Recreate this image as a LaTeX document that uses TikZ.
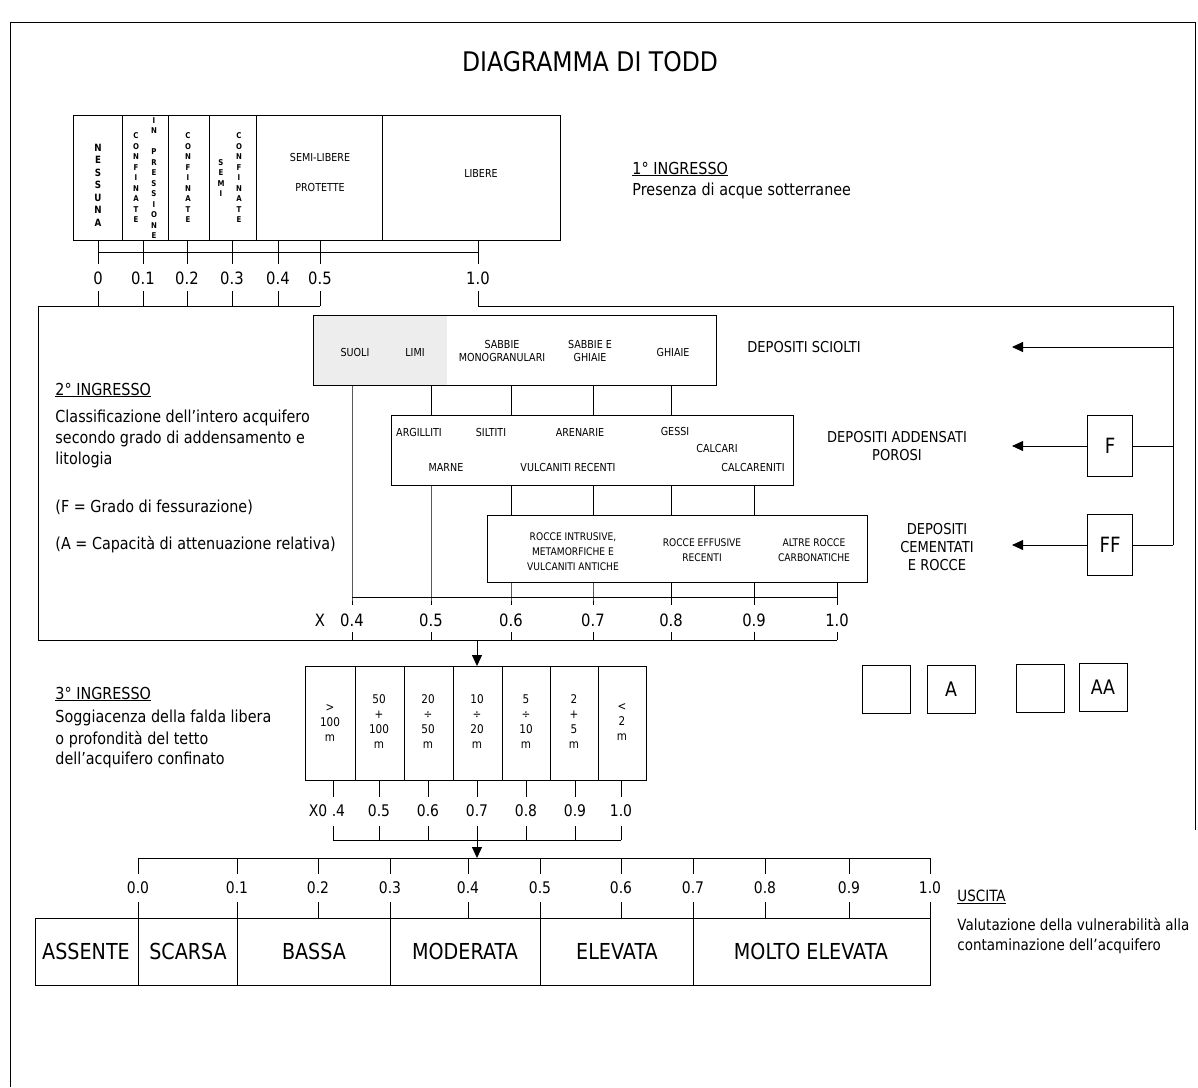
\documentclass[tikz,border=0pt]{standalone}
\usepackage{fontspec}
\setmainfont{DejaVu Sans}[FakeStretch=0.87]
\usetikzlibrary{arrows.meta,positioning}

\begin{document}
\begin{tikzpicture}[x=1pt,y=-1pt,line width=0.9pt,
  box/.style={draw,inner sep=0pt,anchor=north west},
  sqbox/.style={draw,inner sep=0pt,minimum width=48pt,minimum height=48pt,font=\fontsize{20}{22}\selectfont},
  fbox/.style={draw,inner sep=0pt,minimum width=45pt,minimum height=61pt,font=\fontsize{21}{24}\selectfont},
  vlet/.style={font=\fontsize{8}{10.5}\selectfont\bfseries,align=center,inner sep=0pt},
  lab/.style={font=\fontsize{11}{13}\selectfont,align=center,inner sep=0pt},
  dlab/.style={font=\fontsize{12}{15}\selectfont,align=center,inner sep=0pt},
  dep/.style={font=\fontsize{15}{18}\selectfont,align=center,inner sep=0pt},
  head/.style={font=\fontsize{16.5}{20}\selectfont,anchor=west,inner sep=0pt},
  txt/.style={font=\fontsize{16.5}{21}\selectfont,align=left,anchor=north west,inner sep=0pt},
  num/.style={font=\fontsize{17}{20}\selectfont,inner sep=0pt},
  numb/.style={font=\fontsize{16}{18}\selectfont,inner sep=0pt},
  cls/.style={font=\fontsize{22}{24}\selectfont,inner sep=0pt},
  tip/.style={-{Triangle[length=11pt,width=10pt]}}]
\useasboundingbox (0,0) rectangle (1198,1087);

% frame and title
\draw (10,1087) -- (10,22) -- (1195,22) -- (1195,830);
\node[font=\fontsize{27}{30}\selectfont] (title) at (590,62) {DIAGRAMMA DI TODD};

% 1 ingresso
\node[box,minimum width=487pt,minimum height=125pt] (acque) at (73,115) {};
\foreach \x in {122,168,209,256,382}
  \draw (\x,115) -- (\x,240);
\node[vlet,font=\fontsize{10}{12.5}\selectfont\bfseries] (nessuna) at (98,185) {N\\E\\S\\S\\U\\N\\A};
\node[vlet] (conf1) at (136,178) {C\\O\\N\\F\\I\\N\\A\\T\\E};
\node[vlet] (press) at (154,178) {I\\N\\[10.5pt]P\\R\\E\\S\\S\\I\\O\\N\\E};
\node[vlet] (conf2) at (188,178) {C\\O\\N\\F\\I\\N\\A\\T\\E};
\node[vlet] (semi) at (221,178) {S\\E\\M\\I};
\node[vlet] (conf3) at (239,178) {C\\O\\N\\F\\I\\N\\A\\T\\E};
\node[lab] (semilib) at (320,157) {SEMI-LIBERE};
\node[lab] (protette) at (320,187) {PROTETTE};
\node[lab] (libere) at (481,173) {LIBERE};

\node[head] (ing1) at (632,169) {\underline{1° INGRESSO}};
\node[head] (ing1txt) at (632,191) {Presenza di acque sotterranee};

\draw (98,252) -- (478,252);
\foreach \x/\v in {98/0,143/0.1,187/0.2,232/0.3,278/0.4,320/0.5,478/1.0} {
  \draw (\x,240) -- (\x,264);
  \node[num] (p\x) at (\x,278) {\v};
  \draw (\x,291) -- (\x,306);
}

% 2 ingresso
\coordinate (rtop) at (1173,306);
\draw (320,306) -- (38,306) -- (38,640) -- (837,640);
\draw (478,306) -- (rtop);

\node[head] (ing2) at (55,390) {\underline{2° INGRESSO}};
\node[txt] (ing2txt) at (55,410) {Classificazione dell'intero acquifero\\secondo grado di addensamento e\\litologia};
\node[head] (fess) at (55,507) {(F = Grado di fessurazione)};
\node[head] (atten) at (55,545) {(A = Capacità di attenuazione relativa)};

\fill[black!7] (313,315) rectangle (447,385);
\node[box,minimum width=403pt,minimum height=70pt] (sciolti) at (313,315) {};
\node[lab] (suoli) at (355,352) {SUOLI};
\node[lab] (limi) at (415,352) {LIMI};
\node[lab] (mono) at (502,351) {SABBIE\\MONOGRANULARI};
\node[lab] (sabghi) at (590,351) {SABBIE E\\GHIAIE};
\node[lab] (ghiaie) at (673,352) {GHIAIE};

\node[box,minimum width=402pt,minimum height=70pt] (addensati) at (391,415) {};
\node[lab] (argill) at (419,432) {ARGILLITI};
\node[lab] (siltiti) at (491,432) {SILTITI};
\node[lab] (arenarie) at (580,432) {ARENARIE};
\node[lab] (gessi) at (675,431) {GESSI};
\node[lab] (calcari) at (717,448) {CALCARI};
\node[lab] (marne) at (446,467) {MARNE};
\node[lab] (vulcrec) at (568,467) {VULCANITI RECENTI};
\node[lab] (calcar) at (753,467) {CALCARENITI};

\node[box,minimum width=380pt,minimum height=67pt] (cementati) at (487,515) {};
\node[lab,font=\fontsize{10.5}{15}\selectfont] (intrus) at (573,552) {ROCCE INTRUSIVE,\\METAMORFICHE E\\VULCANITI ANTICHE};
\node[lab,font=\fontsize{10.5}{15}\selectfont] (effus) at (702,550) {ROCCE EFFUSIVE\\RECENTI};
\node[lab,font=\fontsize{10.5}{15}\selectfont] (carbon) at (814,550) {ALTRE ROCCE\\CARBONATICHE};

\node[num] (xlab) at (320,620) {X};
\foreach \x/\v [count=\i] in {352/0.4,431/0.5,511/0.6,593/0.7,671/0.8,754/0.9,837/1.0} {
  \coordinate (xs\i) at (\x,597);
  \node[num] (xv\i) at (\x,620) {\v};
  \draw (\x,632) -- (\x,640);
}
\draw (xs1) -- (xs7);
\draw (xs1 |- sciolti.south) -- (xs1) -- ++(0,8);
\foreach \i in {2,...,5}
  \draw (xs\i |- sciolti.south) -- (xs\i |- addensati.north);
\draw (xs2 |- addensati.south) -- (xs2) -- ++(0,8);
\foreach \i in {3,...,6}
  \draw (xs\i |- addensati.south) -- (xs\i |- cementati.north);
\foreach \i in {3,...,7}
  \draw (xs\i |- cementati.south) -- (xs\i) -- ++(0,8);

% deposit classes on the right
\node[dep] (dsciolti) at (804,347) {DEPOSITI SCIOLTI};
\node[dep] (dadd) at (897,446) {DEPOSITI ADDENSATI\\POROSI};
\node[dep] (dcem) at (937,547) {DEPOSITI\\CEMENTATI\\E ROCCE};
\node[fbox] (F) at (1110,446) {F};
\node[fbox] (FF) at (1110,545) {FF};
\coordinate (t1) at (1012,347);
\draw (rtop) -- (rtop |- FF.east);
\draw[tip] (rtop |- t1) -- (t1);
\draw[tip] (F.west) -- ++(-75,0);
\draw (F.east) -- (F.east -| rtop);
\draw[tip] (FF.west) -- ++(-75,0);
\draw (FF.east) -- (FF.east -| rtop);

\node[sqbox] (a1) at (886,689) {};
\node[sqbox] (a2) at (951,689) {A};
\node[sqbox] (aa1) at (1040,688) {};
\node[sqbox] (aa2) at (1103,687) {AA};

% 3 ingresso
\node[head] (ing3) at (55,694) {\underline{3° INGRESSO}};
\node[txt] (ing3txt) at (55,710) {Soggiacenza della falda libera\\o profondità del tetto\\dell'acquifero confinato};

\node[box,minimum width=341pt,minimum height=114pt] (depth) at (305,666) {};
\coordinate (in3) at (477,640);
\draw[tip] (in3) -- (in3 |- depth.north);
\foreach \x in {355,404,453,502,550,598}
  \draw (\x,666) -- (\x,780);
\node[dlab] (d1) at (330,723) {>\\100\\m};
\node[dlab] (d2) at (379,722) {50\\+\\100\\m};
\node[dlab] (d3) at (428,722) {20\\÷\\50\\m};
\node[dlab] (d4) at (477,722) {10\\÷\\20\\m};
\node[dlab] (d5) at (526,722) {5\\÷\\10\\m};
\node[dlab] (d6) at (574,722) {2\\+\\5\\m};
\node[dlab] (d7) at (622,722) {<\\2\\m};

\draw (333,780) -- (333,797);
\node[numb] (x0) at (327,811) {X0 .4};
\draw (333,826) -- (333,840);
\foreach \x/\v in {379/0.5,428/0.6,477/0.7,526/0.8,575/0.9,621/1.0} {
  \draw (\x,780) -- (\x,797);
  \node[numb] (q\x) at (\x,811) {\v};
  \draw (\x,826) -- (\x,840);
}
\coordinate (out) at (477,840);
\draw (333,840) -- (621,840);

% uscita
\coordinate (u0) at (138,858);
\coordinate (u10) at (930,858);
\draw[tip] (out) -- (out |- u0);
\draw (u0) -- (u10);
\foreach \x/\v in {138/0.0,237/0.1,318/0.2,390/0.3,468/0.4,540/0.5,621/0.6,693/0.7,765/0.8,849/0.9,930/1.0} {
  \draw (\x,858) -- (\x,874);
  \node[numb] (u\x) at (\x,888) {\v};
  \draw (\x,902) -- (\x,918);
}
\node[box,minimum width=895pt,minimum height=67pt] (vuln) at (35,918) {};
\foreach \x in {138,237,390,540,693}
  \draw (\x,918) -- (\x,985);
\node[cls] (c1) at (86,951) {ASSENTE};
\node[cls] (c2) at (188,951) {SCARSA};
\node[cls] (c3) at (314,951) {BASSA};
\node[cls] (c4) at (465,951) {MODERATA};
\node[cls] (c5) at (617,951) {ELEVATA};
\node[cls] (c6) at (811,951) {MOLTO ELEVATA};

\node[head,font=\fontsize{15.5}{20}\selectfont] (usc) at (957,897) {\underline{USCITA}};
\node[txt,font=\fontsize{15.5}{20}\selectfont] (usctxt) at (957,918) {Valutazione della vulnerabilità alla\\contaminazione dell'acquifero};
\end{tikzpicture}
\end{document}
